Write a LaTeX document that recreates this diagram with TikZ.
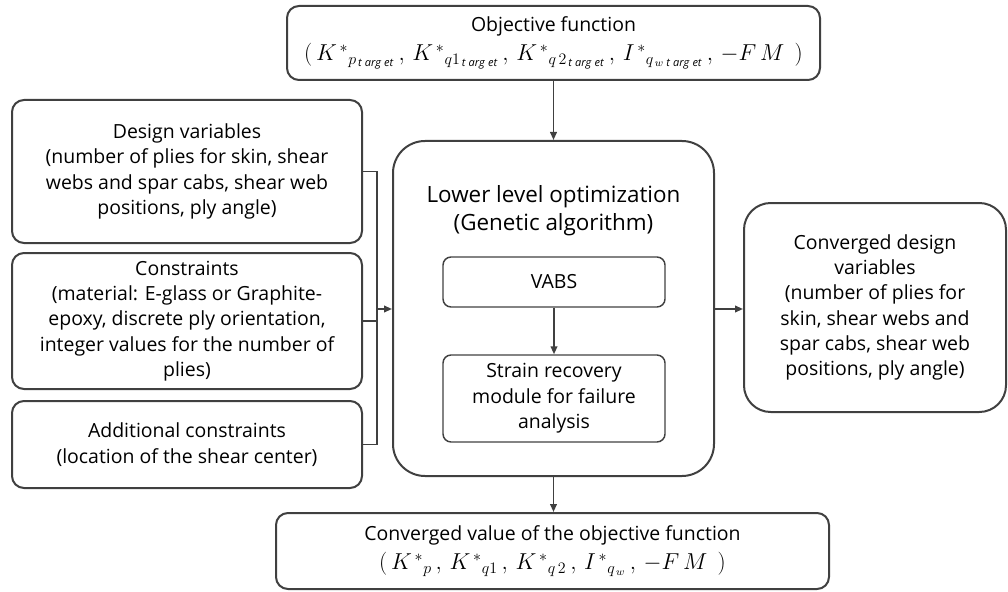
\documentclass[tikz,border=0pt]{standalone}
\usepackage{fontspec}
\setmainfont{Open Sans}
\usetikzlibrary{arrows.meta}
\tikzset{
  box/.style={draw=black!75, line width=1.5pt, rounded corners=9pt, inner sep=0pt, align=center, font=\fontsize{14.6}{19}\selectfont},
  bigbox/.style={box, rounded corners=24pt},
  inbox/.style={box, line width=1.1pt, rounded corners=6pt},
  conn/.style={draw=black!75, line width=1.3pt},
  arr/.style={conn, -{Triangle[length=6pt,width=5pt]}}
}
\newcommand{\tg}{\mathit{t\;arg\;et}}
\newcommand{\fsz}{\fontsize{16.5}{19}\selectfont}
\begin{document}
\begin{tikzpicture}[x=0.75pt,y=-0.75pt]
\useasboundingbox (0,0) rectangle (1008,592);
\node[box, minimum width=533*0.75pt, minimum height=74*0.75pt] (obj) at (553.5,43)
  {Objective function\\[3pt]
   {\fsz$(\,K^{\,*}{}_{p_{\,\tg}}\,,\,K^{\,*}{}_{q1_{\,\tg}}\,,\,K^{\,*}{}_{q\,2_{\,\tg}}\,,\,I^{\,*}{}_{q_{\,w\;\tg}}\,,\,-F\,M\;\,)$}};
\node[box, minimum width=350*0.75pt, minimum height=143*0.75pt] (dv) at (187,171.5)
  {Design variables\\(number of plies for skin, shear\\webs and spar cabs, shear web\\positions, ply angle)};
\node[box, minimum width=350*0.75pt, minimum height=136*0.75pt] (con) at (187,321)
  {Constraints\\(material: E-glass or Graphite-\\epoxy, discrete ply orientation,\\integer values for the number of\\plies)};
\node[box, minimum width=350*0.75pt, minimum height=87*0.75pt] (add) at (187,444.5)
  {Additional constraints\\(location of the shear center)};
\node[bigbox, minimum width=321*0.75pt, minimum height=335*0.75pt] (low) at (553.5,308.5) {};
\node[align=center, font=\fontsize{16.8}{21}\selectfont] (lowt) at (553.5,211)
  {Lower level optimization\\(Genetic algorithm)};
\node[inbox, minimum width=222*0.75pt, minimum height=50*0.75pt] (vabs) at (554,282) {VABS};
\node[inbox, minimum width=222*0.75pt, minimum height=87*0.75pt] (str) at (554,398.5)
  {Strain recovery\\module for failure\\analysis};
\node[bigbox, rounded corners=20pt, minimum width=262*0.75pt, minimum height=209*0.75pt] (cdv) at (875,307.5)
  {Converged design\\variables\\(number of plies for\\skin, shear webs and\\spar cabs, shear web\\positions, ply angle)};
\node[box, minimum width=553*0.75pt, minimum height=76*0.75pt] (cvo) at (552.5,551)
  {Converged value of the objective function\\[3pt]
   {\fsz$(\,K^{\,*}{}_{p}\,,\,K^{\,*}{}_{q1}\,,\,K^{\,*}{}_{q\,2}\,,\,I^{\,*}{}_{q_{\,w}}\,,\,-F\,M\;\,)$}};
\coordinate (b1) at (377,171.5);
\coordinate (b2) at (377,444.5);
\coordinate (bm) at (377,309);
\draw[conn] (dv.east) -- (b1) -- (b2) -- (add.east);
\draw[conn] (con.east) -- (con.east -| b1);
\draw[arr] (bm) -- (bm -| low.west);
\draw[arr] (obj.south -| low.north) -- (low.north);
\draw[arr] (low.south) -- (low.south |- cvo.north);
\draw[arr] (vabs) -- (str);
\draw[arr] (low.east |- bm) -- (bm -| cdv.west);
\end{tikzpicture}
\end{document}
